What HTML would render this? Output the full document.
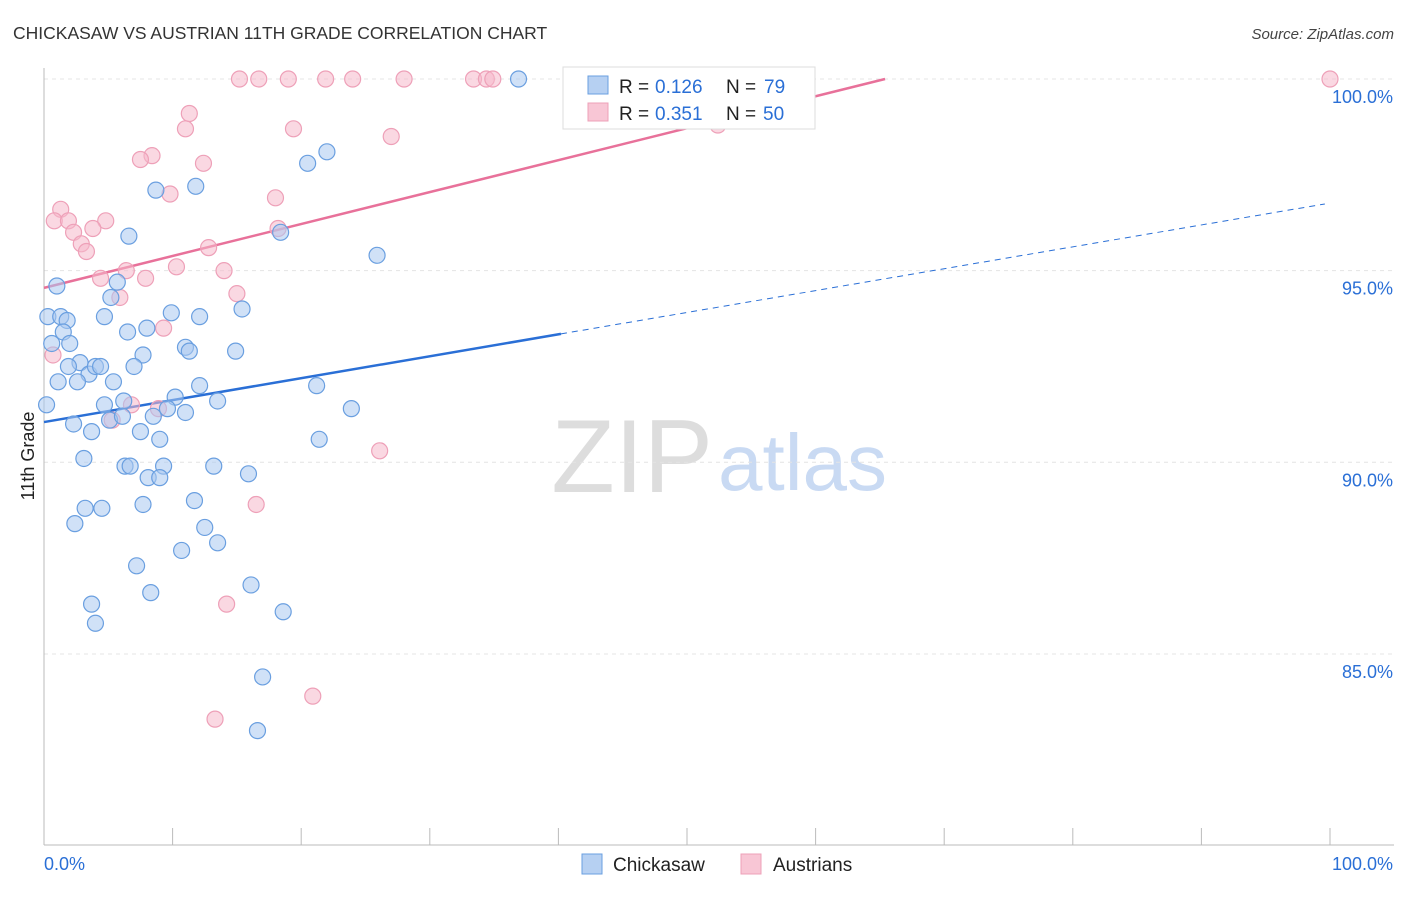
<!DOCTYPE html>
<html><head><meta charset="utf-8"><style>
body{margin:0;background:#fff;font-family:"Liberation Sans",sans-serif;}
svg text{font-family:"Liberation Sans",sans-serif;}
</style></head><body>
<svg id="chart" width="1406" height="892" viewBox="0 0 1406 892" xmlns="http://www.w3.org/2000/svg">
<text x="13" y="39" font-size="17.5" fill="#333">CHICKASAW VS AUSTRIAN 11TH GRADE CORRELATION CHART</text>
<text x="1394" y="39" font-size="15" fill="#444" text-anchor="end" font-style="italic">Source: ZipAtlas.com</text>
<text x="34" y="456" font-size="18" fill="#222" text-anchor="middle" transform="rotate(-90 34 456)">11th Grade</text>
<g><text x="713" y="492" font-size="104" fill="#ddd" font-family="Liberation Serif" text-anchor="end">ZIP</text><text x="718" y="490" font-size="80" fill="#c9daf3">atlas</text></g>
<g id="grid"></g><g id="ticks"></g><g id="lines"></g><g id="pts"></g>
<g>
<rect x="563" y="67" width="252" height="62" fill="#fff" stroke="#ddd"/>
<rect x="588" y="76" width="20" height="18" fill="#b6d0f2" stroke="#6a9fe0"/>
<text x="619" y="93" font-size="19" fill="#222">R =</text><text x="655" y="93" font-size="19" fill="#2a6fd6">0.126</text>
<text x="726" y="93" font-size="19" fill="#222">N =</text><text x="764" y="93" font-size="19" fill="#2a6fd6">79</text>
<rect x="588" y="103" width="20" height="18" fill="#f8c6d5" stroke="#eea0b8"/>
<text x="619" y="120" font-size="19" fill="#222">R =</text><text x="655" y="120" font-size="19" fill="#2a6fd6">0.351</text>
<text x="726" y="120" font-size="19" fill="#222">N =</text><text x="763" y="120" font-size="19" fill="#2a6fd6">50</text>
</g>
<g>
<rect x="582" y="854" width="20" height="20" fill="#b6d0f2" stroke="#6a9fe0"/>
<text x="613" y="871" font-size="19" fill="#222">Chickasaw</text>
<rect x="741" y="854" width="20" height="20" fill="#f8c6d5" stroke="#eea0b8"/>
<text x="773" y="871" font-size="19" fill="#222">Austrians</text>
</g>
</svg>
<script>
const blueX=[36.9,22.0,20.5,8.7,11.8,6.6,18.4,25.9,1.0,5.7,5.2,0.3,1.3,1.8,4.7,9.9,12.1,15.4,1.5,6.5,8.0,0.6,2.0,11.0,11.3,14.9,7.7,2.8,7.0,1.9,3.5,4.0,4.4,1.1,2.6,5.4,12.1,21.2,0.2,4.7,6.2,10.2,13.5,9.6,11.0,8.5,5.1,6.1,2.3,7.5,3.7,9.0,23.9,21.4,3.1,6.3,6.7,9.3,8.1,9.0,13.2,15.9,3.2,4.5,7.7,11.7,2.4,12.5,13.5,10.7,7.2,8.3,16.1,3.7,4.0,18.6,17.0,16.6];
const blueY=[100.0,98.1,97.8,97.1,97.2,95.9,96.0,95.4,94.6,94.7,94.3,93.8,93.8,93.7,93.8,93.9,93.8,94.0,93.4,93.4,93.5,93.1,93.1,93.0,92.9,92.9,92.8,92.6,92.5,92.5,92.3,92.5,92.5,92.1,92.1,92.1,92.0,92.0,91.5,91.5,91.6,91.7,91.6,91.4,91.3,91.2,91.1,91.2,91.0,90.8,90.8,90.6,91.4,90.6,90.1,89.9,89.9,89.9,89.6,89.6,89.9,89.7,88.8,88.8,88.9,89.0,88.4,88.3,87.9,87.7,87.3,86.6,86.8,86.3,85.8,86.1,84.4,83.0];
const pinkX=[15.2,16.7,19.0,21.9,24.0,28.0,33.4,34.4,34.9,41.5,47.3,100,11.3,11.0,19.4,27.0,52.4,8.4,7.5,12.4,9.8,18.0,1.3,0.8,1.9,4.8,3.8,2.3,18.2,2.9,3.3,12.8,6.4,7.9,4.4,10.3,14.0,15.0,5.9,9.3,0.7,8.9,6.8,5.3,26.1,16.5,14.2,20.9,13.3];
const pinkY=[100,100,100,100,100,100,100,100,100,100,100,100,99.1,98.7,98.7,98.5,98.8,98.0,97.9,97.8,97.0,96.9,96.6,96.3,96.3,96.3,96.1,96.0,96.1,95.7,95.5,95.6,95.0,94.8,94.8,95.1,95.0,94.4,94.3,93.5,92.8,91.4,91.5,91.1,90.3,88.9,86.3,83.9,83.3];
const blueTrendX=[0,40.2,99.6];
const blueTrendY=[91.05,93.35,96.74];
const pinkTrendX=[0,65.4];
const pinkTrendY=[94.55,100];
const yTicks=[100,95,90,85];
const yTickLabels=["100.0%","95.0%","90.0%","85.0%"];
const xTicks=[0,10,20,30,40,50,60,70,80,90,100];
const NS="http://www.w3.org/2000/svg";
const X=v=>44+v*12.86;
const Y=v=>79+(100-v)*38.33;
function mk(t,a,p){const e=document.createElementNS(NS,t);for(const k in a)e.setAttribute(k,a[k]);document.getElementById(p).appendChild(e);return e;}
yTicks.forEach((t,i)=>{
 const l=mk('line',{x1:44,x2:1394,y1:Y(t),y2:Y(t),stroke:'#e4e4e4','stroke-dasharray':'4,4'},'grid');
 
 
 const tx=mk('text',{x:1393,y:Y(t)+24,'font-size':18,fill:'#2a6fd6','text-anchor':'end'},'grid');
 tx.textContent=yTickLabels[i];
 
 
});
const ax=mk('line',{x1:44,x2:1394,y1:845,y2:845,stroke:'#bbb'},'ticks');


const ay=mk('line',{x1:44,x2:44,y1:68,y2:845,stroke:'#bbb'},'ticks');


xTicks.forEach(t=>{
 const l=mk('line',{x1:X(t),x2:X(t),y1:828,y2:845,stroke:'#bbb'},'ticks');
 
 
});
[["0.0%",44,"start"],["100.0%",1393,"end"]].forEach(a=>{
 const tx=mk('text',{x:a[1],y:870,'font-size':18,fill:'#2a6fd6','text-anchor':a[2]},'ticks');
 tx.textContent=a[0];
 
 
});
function dots(xs,ys,fill,stroke,name){xs.forEach((x,i)=>{
 const c=mk('circle',{cx:X(x),cy:Y(ys[i]),r:8,fill:fill,'fill-opacity':0.55,stroke:stroke,'stroke-width':1.2},'pts');
 
 
});}
dots(pinkX,pinkY,'#f5b8cb','#eea0b8','austrians-point');
dots(blueX,blueY,'#a9c8f0','#6a9fe0','chickasaw-point');
const b1=mk('line',{x1:X(blueTrendX[0]),y1:Y(blueTrendY[0]),x2:X(blueTrendX[1]),y2:Y(blueTrendY[1]),stroke:'#2a6fd6','stroke-width':2.5},'lines');


const b2=mk('line',{x1:X(blueTrendX[1]),y1:Y(blueTrendY[1]),x2:X(blueTrendX[2]),y2:Y(blueTrendY[2]),stroke:'#2a6fd6','stroke-width':1,'stroke-dasharray':'6,5'},'lines');


const p1=mk('line',{x1:X(pinkTrendX[0]),y1:Y(pinkTrendY[0]),x2:X(pinkTrendX[1]),y2:Y(pinkTrendY[1]),stroke:'#e8719a','stroke-width':2.5},'lines');


</script>
</body></html>
